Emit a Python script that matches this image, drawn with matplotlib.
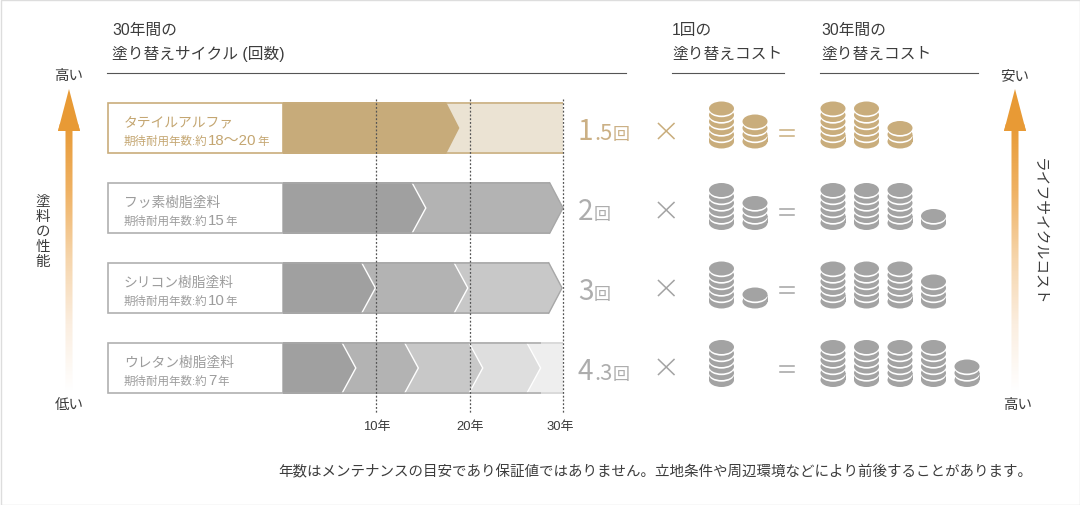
import numpy as np
import matplotlib
matplotlib.use('Agg')
import matplotlib.pyplot as plt
from matplotlib.colors import LinearSegmentedColormap
from matplotlib.patches import Ellipse, Polygon, Rectangle

plt.rcParams['font.family'] = ['Liberation Sans', 'Noto Sans CJK JP', 'DejaVu Sans']

# data
paint_names = ['タテイルアルファ', 'フッ素樹脂塗料', 'シリコン樹脂塗料', 'ウレタン樹脂塗料']
life_labels = ['18〜20', '15', '10', '7']
cycle_big = ['1', '2', '3', '4']
cycle_small = ['.5', '', '', '.3']
# year where each chevron ends
segment_ends = [
    [18.9, 30],
    [15.3, 30],
    [9.9, 19.8, 29.9],
    [7.8, 14.5, 21.4, 27.6, 30],
]
unit_coins = [[5, 3], [5, 3], [5, 1], [5]]
total_coins = [[5, 5, 2], [5, 5, 5, 1], [5, 5, 5, 3], [5, 5, 5, 5, 2]]
year_ticks = [10, 20, 30]

GOLD = '#c9ad7c'
GREY = '#a3a3a3'
TEXT = '#3c3c3c'
row_colors = [GOLD, GREY, GREY, GREY]
row_text = ['#c4a671', '#9c9c9c', '#9c9c9c', '#9c9c9c']
row_box = ['#c9ad7c', '#b0b0b0', '#b0b0b0', '#b0b0b0']
cycle_text = ['#cbb085', '#adadad', '#adadad', '#adadad']
row_top = [103, 183, 263, 343]
row_h = 52
coin_base = [149.5, 231, 309.5, 388]
op_y = [132, 211, 289, 368]
seg_colors = [
    ['#c7ab7a', '#ebe3d3'],
    ['#a0a0a0', '#b3b3b3'],
    ['#a0a0a0', '#b3b3b3', '#c8c8c8'],
    ['#a0a0a0', '#b3b3b3', '#c8c8c8', '#dedede', '#eeeeee'],
]
flat_end = [True, False, False, True]

fig = plt.figure(figsize=(10.8, 5.06), dpi=100)
ax = fig.add_axes([0, 0, 1, 1])
ax.set_xlim(0, 1080)
ax.set_ylim(506, 0)
ax.axis('off')

# years on x, pixels on y
ax_bar = fig.add_axes([283 / 1080, 0, 280 / 1080, 1])
ax_bar.set_xlim(0, 30)
ax_bar.set_ylim(506, 0)
ax_bar.axis('off')
ax_bar.patch.set_alpha(0)

ax.add_patch(Rectangle((0.5, 0.5), 1079, 505, fc='white', ec='#dddddd', lw=1))


def px(size):
    return size * 0.72


def draw_pieces(x, y, pieces, color, **kw):
    # text in several sizes on one baseline
    renderer = fig.canvas.get_renderer()
    for s, size in pieces:
        if not s:
            continue
        t = ax.text(x, y, s, fontsize=px(size), color=color, va='baseline', ha='left', **kw)
        x += t.get_window_extent(renderer).width + 0.5


def draw_stack(x, base, n, color):
    # bottom rim, then discs with a white crescent under each one
    w, h = 25, 14
    c = base - 7 - h / 2
    ax.add_patch(Ellipse((x, c + 7), w, h, fc=color, ec='none'))
    ax.add_patch(Rectangle((x - w / 2, c), w, 7, fc=color, ec='none'))
    for i in range(n):
        cy = c - i * 6.5
        ax.add_patch(Ellipse((x, cy + 1.7), w, h, fc='white', ec='none'))
        ax.add_patch(Ellipse((x, cy), w, h, fc=color, ec='none'))


def draw_arrow(x, label_top, label_bottom, bottom_x):
    cmap = LinearSegmentedColormap.from_list('fade', ['#e89a35', '#efb264', '#f6d5ab', '#fbeee0', '#ffffff'])
    grad = np.linspace(0, 1, 256).reshape(-1, 1)
    im = ax.imshow(grad, extent=(x - 12, x + 12, 392, 125), cmap=cmap, aspect='auto', zorder=2)
    shape = Polygon([(x, 90), (x + 11, 132), (x + 3.5, 132), (x + 3.5, 392), (x - 3.5, 392),
                     (x - 3.5, 132), (x - 11, 132)], transform=ax.transData, fc='none', ec='none')
    ax.add_patch(shape)
    im.set_clip_path(shape)
    ax.add_patch(Polygon([(x, 90), (x + 11, 132), (x - 11, 132)], fc='#e89a35', ec='none', zorder=3))
    ax.set_xlim(0, 1080)
    ax.set_ylim(506, 0)
    ax.text(x, 76, label_top, fontsize=px(14.5), color=TEXT, ha='center', va='center')
    ax.text(bottom_x, 405, label_bottom, fontsize=px(14.5), color=TEXT, ha='center', va='center')


# headers
for x, lines in [(112, ['30年間の', '塗り替えサイクル (回数)']),
                 (672, ['1回の', '塗り替えコスト']),
                 (821, ['30年間の', '塗り替えコスト'])]:
    ax.text(x, 35, lines[0], fontsize=px(15.7), color=TEXT, va='baseline')
    ax.text(x, 59, lines[1], fontsize=px(15.7), color=TEXT, va='baseline')
for x0, x1 in [(107, 626), (672, 784), (820, 978)]:
    ax.plot([x0, x1], [73.5, 73.5], color='#555555', lw=0.8)

# rows
notch = 13.3 / (280 / 30)
for r, name in enumerate(paint_names):
    top = row_top[r]
    bot = top + row_h
    mid = top + row_h / 2
    col = row_colors[r]
    ends = segment_ends[r]
    n_seg = len(ends)

    ax.add_patch(Rectangle((107.8, top + 0.8), 175.2, row_h - 1.6, fc='white', ec=row_box[r], lw=1.2))
    ax.text(124, top + 24, name, fontsize=px(13.8), color=row_text[r], va='baseline')
    draw_pieces(124, top + 42, [('期待耐用年数:約', 11.5), (life_labels[r], 15), ('年', 11.5)], row_text[r])

    # last chevron first, so each earlier one sits on top of it
    for i in range(n_seg - 1, -1, -1):
        end = ends[i]
        last = i == n_seg - 1
        if last and flat_end[r]:
            pts = [(0, top), (end, top), (end, bot), (0, bot)]
        else:
            pts = [(0, top), (end - notch, top), (end, mid), (end - notch, bot), (0, bot)]
        ax_bar.add_patch(Polygon(pts, fc=seg_colors[r][i], ec='none', clip_on=False))
        if not last and r > 0:
            ax_bar.plot([end - notch, end, end - notch], [top + 1.5, mid, bot - 1.5], color='white', lw=1,
                        solid_joinstyle='miter')
        if last and not flat_end[r]:
            ax_bar.plot([end - notch, end, end - notch], [top + 0.8, mid, bot - 0.8], color='#a8a8a8', lw=1,
                        solid_joinstyle='miter', clip_on=False)

    # top and bottom borders
    line_col = col if r == 0 else '#a8a8a8'
    line_end = 30 if r == 0 else ends[-1] - notch if not flat_end[r] else ends[-2]
    for y in [top + 0.8, bot - 0.8]:
        ax_bar.plot([0, line_end], [y, y], color=line_col, lw=1.1, solid_capstyle='butt')
        if flat_end[r] and r > 0:
            ax_bar.plot([line_end, 30], [y, y], color='#d5d5d5', lw=1.1, solid_capstyle='butt')

    # number of cycles
    draw_pieces(578, top + 37, [(cycle_big[r], 28), (cycle_small[r], 22), ('回', 17)], cycle_text[r],
                family=['Noto Sans CJK JP'])

    # × and =
    y = op_y[r]
    ax.plot([658.5, 674], [y - 7.5, y + 7.5], color=col, lw=1.1)
    ax.plot([658.5, 674], [y + 7.5, y - 7.5], color=col, lw=1.1)
    ax.plot([780, 794], [y - 1.5, y - 1.5], color=col, lw=1.1)
    ax.plot([780, 794], [y + 4.5, y + 4.5], color=col, lw=1.1)

    for i, n in enumerate(unit_coins[r]):
        draw_stack(721.5 + i * 33.5, coin_base[r], n, col)
    for i, n in enumerate(total_coins[r]):
        draw_stack(833 + i * 33.5, coin_base[r], n, col)

# year guides
for yr in year_ticks:
    ax_bar.plot([yr, yr], [100, 415], color='#555555', lw=0.9, linestyle=(0, (1.5, 1.5)), zorder=5, clip_on=False)
    ax_bar.annotate(f'{yr}年', (yr, 427), xytext=(-3 if yr == 30 else 0, 0), textcoords='offset pixels',
                    fontsize=px(13), color=TEXT, ha='center', va='center', annotation_clip=False)

# side arrows
draw_arrow(69, '高い', '低い', 69)
draw_arrow(1015, '安い', '高い', 1018)
for i, ch in enumerate('塗料の性能'):
    ax.text(43, 202 + i * 15, ch, fontsize=px(14.5), color=TEXT, ha='center', va='center')
ax.text(1039, 232, 'ライフサイクルコスト', fontsize=px(14.8), color=TEXT, rotation=-90, ha='center', va='center')

ax.text(278, 476, '年数はメンテナンスの目安であり保証値ではありません。立地条件や周辺環境などにより前後することがあります。',
        fontsize=px(14.5), color=TEXT, va='baseline')

fig.savefig('out.png', dpi=100)
